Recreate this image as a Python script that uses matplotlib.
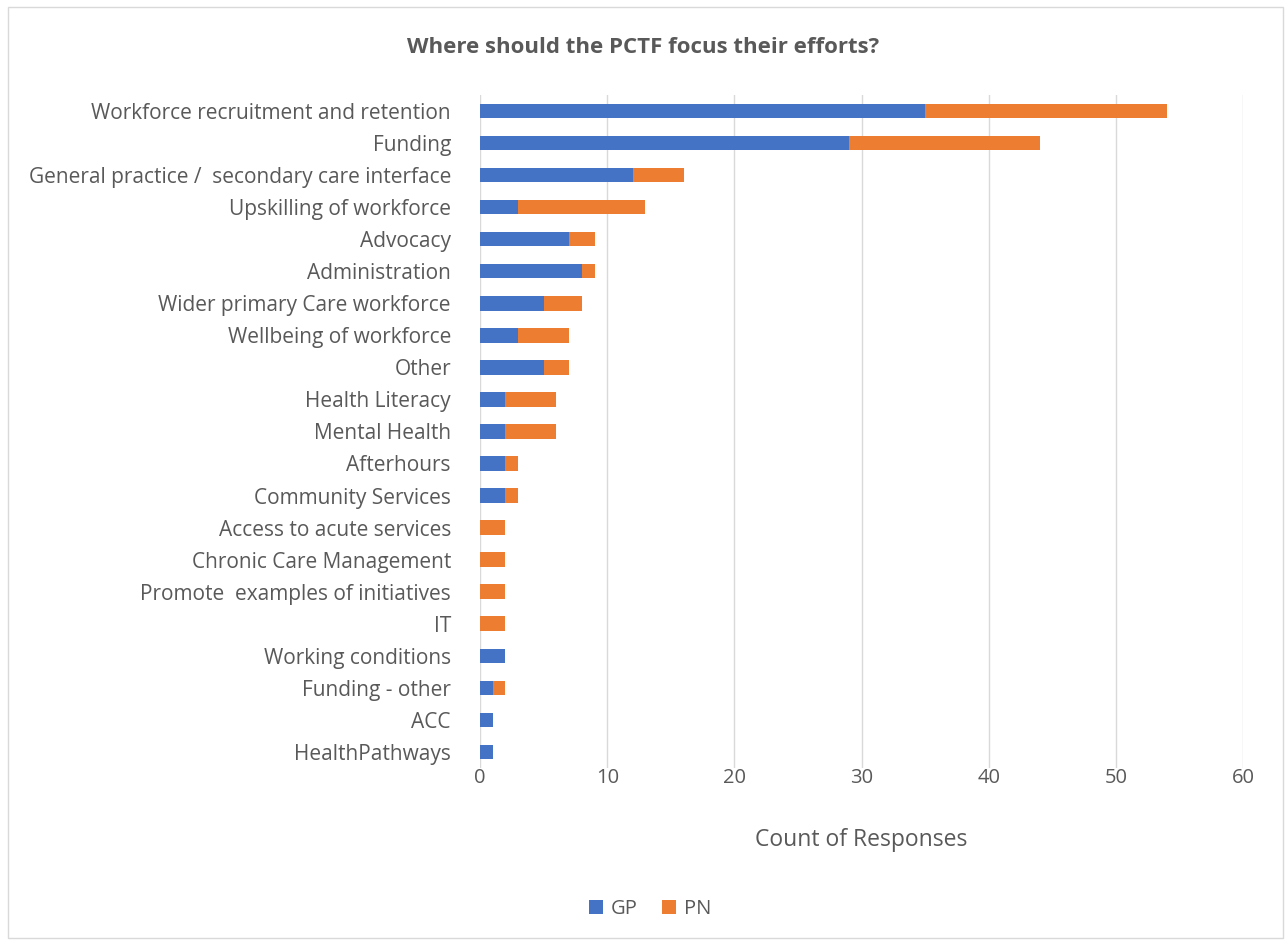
import matplotlib.pyplot as plt
from matplotlib.patches import Rectangle

categories = [
    "Workforce recruitment and retention",
    "Funding",
    "General practice /  secondary care interface",
    "Upskilling of workforce",
    "Advocacy",
    "Administration",
    "Wider primary Care workforce",
    "Wellbeing of workforce",
    "Other",
    "Health Literacy",
    "Mental Health",
    "Afterhours",
    "Community Services",
    "Access to acute services",
    "Chronic Care Management",
    "Promote  examples of initiatives",
    "IT",
    "Working conditions",
    "Funding - other",
    "ACC",
    "HealthPathways",
]
gp = [35, 29, 12, 3, 7, 8, 5, 3, 5, 2, 2, 2, 2, 0, 0, 0, 0, 2, 1, 1, 1]
pn = [19, 15, 4, 10, 2, 1, 3, 4, 2, 4, 4, 1, 1, 2, 2, 2, 2, 0, 1, 0, 0]

text_color = "#595959"
plt.rcParams['font.family'] = ['Open Sans', 'DejaVu Sans']

fig = plt.figure(figsize=(12.87, 9.41), dpi=100)
ax = fig.add_axes([0.373, 0.184, 0.593, 0.715])

y = range(len(categories))
ax.barh(y, gp, height=0.45, color="#4472C4", label="GP")
ax.barh(y, pn, height=0.45, left=gp, color="#ED7D31", label="PN")

ax.set_yticks(list(y))
ax.set_yticklabels(categories, fontsize=15, color=text_color)
ax.set_ylim(len(categories) - 0.5, -0.5)
ax.set_xlim(0, 60)
ax.set_xticks(range(0, 61, 10))
ax.tick_params(axis='x', labelsize=14.5, colors=text_color, length=0, pad=0)
ax.tick_params(axis='y', length=0, pad=21)
ax.grid(axis='x', color="#D9D9D9", linewidth=1)
ax.set_axisbelow(True)
for s in ax.spines.values():
    s.set_visible(False)
ax.set_xlabel("Count of Responses", fontsize=16.5, color=text_color, labelpad=29)

fig.text(0.5, 0.95, "Where should the PCTF focus their efforts?", ha='center', va='center',
         fontsize=16, fontweight='bold', color=text_color)
fig.legend(loc='center', bbox_to_anchor=(0.505, 0.034), ncol=2, frameon=False,
           fontsize=14.5, handlelength=0.7, handleheight=0.7, columnspacing=1.2,
           handletextpad=0.4, labelcolor=text_color)

# outer chart border
fig.patches.append(Rectangle((0.006, 0.003), 0.991, 0.99, transform=fig.transFigure,
                             fill=False, edgecolor="#D9D9D9", linewidth=1))

fig.savefig("out.png", dpi=100)
